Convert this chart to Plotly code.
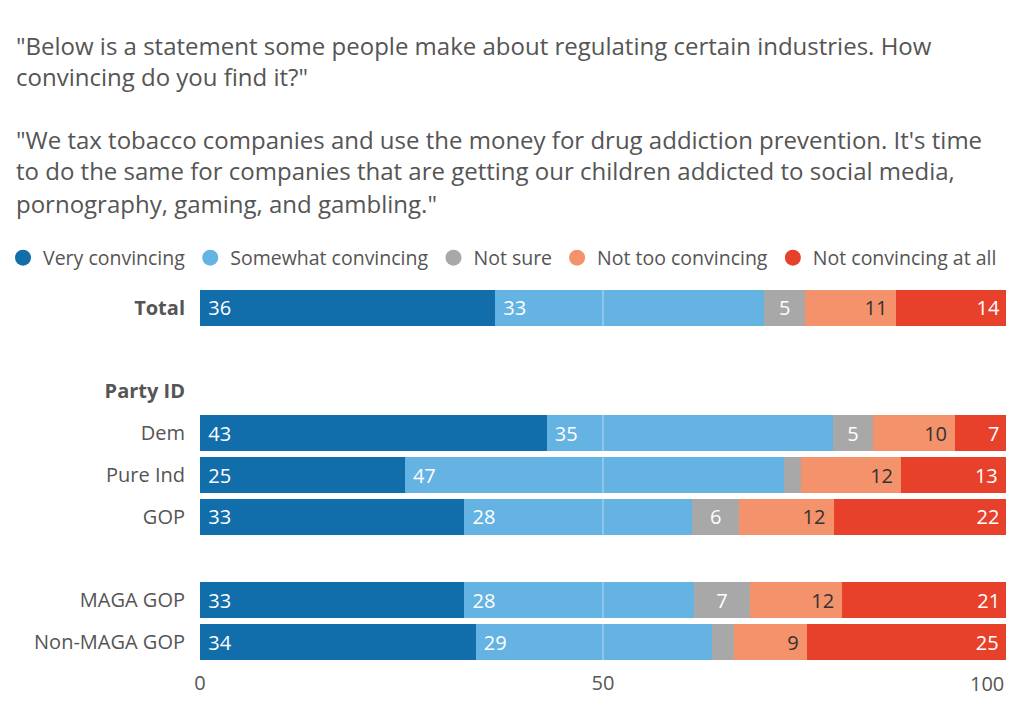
import plotly.graph_objects as go

# ---------------- data ----------------
rows = ["Total", "Dem", "Pure Ind", "GOP", "MAGA GOP", "Non-MAGA GOP"]
series = ["Very convincing", "Somewhat convincing", "Not sure",
          "Not too convincing", "Not convincing at all"]

# segment sizes
very_convincing = [36.6, 43.0, 25.4, 32.8, 32.8, 34.2]
somewhat_convincing = [33.4, 35.5, 47.0, 28.3, 28.5, 29.3]
not_sure = [5.1, 5.0, 2.2, 5.8, 6.9, 2.7]
not_too_convincing = [11.2, 10.2, 12.4, 11.7, 11.5, 9.1]
not_convincing_at_all = [13.9, 6.5, 13.0, 21.6, 20.6, 24.8]

# printed labels
very_labels = ["36", "43", "25", "33", "33", "34"]
somewhat_labels = ["33", "35", "47", "28", "28", "29"]
not_sure_labels = ["5", "5", "", "6", "7", ""]
not_too_labels = ["11", "10", "12", "12", "12", "9"]
not_at_all_labels = ["14", "7", "13", "22", "21", "25"]

x_ticks = [0, 50, 100]
x_tick_labels = ["0", "50", "100"]

# category slots (including header / spacer rows)
categories = ["<b>Total</b>", " ", "<b>Party ID</b>", "Dem", "Pure Ind", "GOP",
              "  ", "MAGA GOP", "Non-MAGA GOP"]
row_slots = ["<b>Total</b>", "Dem", "Pure Ind", "GOP", "MAGA GOP", "Non-MAGA GOP"]

colors = ["#116eab", "#64b3e3", "#a8a8a8", "#f4926c", "#e8412b"]
values = [very_convincing, somewhat_convincing, not_sure,
          not_too_convincing, not_convincing_at_all]
labels = [very_labels, somewhat_labels, not_sure_labels, not_too_labels, not_at_all_labels]
anchors = ["start", "start", "middle", "end", "end"]
text_colors = ["white", "white", "white", "#333333", "white"]

NB = "\u00a0"
FONT = "Open Sans"
GRAY = "#555555"

fig = go.Figure()
for name, vals, labs, col, anc, tcol in zip(series, values, labels, colors, anchors, text_colors):
    if anc == "start":
        txt = [NB + t if t else "" for t in labs]
    elif anc == "end":
        txt = [t + NB if t else "" for t in labs]
    else:
        txt = labs
    fig.add_trace(go.Bar(
        x=vals, y=row_slots, orientation="h", name=name,
        marker=dict(color=col, line=dict(width=0)),
        text=txt, textposition="inside", insidetextanchor=anc,
        textangle=0, constraintext="none",
        textfont=dict(family=FONT, size=20, color=tcol),
        showlegend=False, hoverinfo="skip",
    ))

# legend entries with circle symbols
for name, col in zip(series, colors):
    fig.add_trace(go.Scatter(
        x=[None], y=[None], mode="markers", name=name,
        marker=dict(color=col, size=19, symbol="circle"),
        showlegend=True,
    ))

plot_left, plot_w = 200, 806
plot_bottom, plot_h = 663, 376

fig.update_layout(
    width=1024, height=705,
    barmode="stack", bargap=0.14,
    plot_bgcolor="white", paper_bgcolor="white",
    margin=dict(l=200, r=18, t=287, b=42, autoexpand=False),
    font=dict(family=FONT, color=GRAY, size=20),
    showlegend=True,
    legend=dict(
        orientation="h", xref="paper", yref="paper",
        x=(3 - plot_left) / plot_w, y=(plot_bottom - 258) / plot_h,
        xanchor="left", yanchor="middle",
        font=dict(family=FONT, size=19.5, color=GRAY),
        itemwidth=30, traceorder="normal",
    ),
    xaxis=dict(
        range=[0, 100], tickvals=x_ticks[:2], ticktext=x_tick_labels[:2],
        showgrid=False, zeroline=False, showline=False,
        tickfont=dict(family=FONT, size=20, color=GRAY),
        ticks="", fixedrange=True, automargin=False, ticklabelstandoff=6,
    ),
    yaxis=dict(
        type="category", categoryorder="array", categoryarray=categories,
        tickvals=categories, range=[8.5, -0.5],
        showgrid=False, zeroline=False, showline=False,
        tickfont=dict(family=FONT, size=20, color=GRAY),
        ticks="", ticklabelstandoff=14, automargin=False, fixedrange=True,
    ),
)

# last x tick label is right-aligned to the plot edge
fig.add_annotation(
    text=x_tick_labels[2], xref="x", yref="paper", x=x_ticks[2],
    y=(plot_bottom - 683) / plot_h, xanchor="right", yanchor="middle",
    showarrow=False, font=dict(family=FONT, size=20, color=GRAY),
)

# light gridline on top of bars at 50
fig.add_shape(type="line", xref="x", yref="paper", x0=50, x1=50, y0=0, y1=1,
              line=dict(color="rgba(255,255,255,0.35)", width=1.5), layer="above")

# title lines
title_lines = [
    ('"Below is a statement some people make about regulating certain industries. How', 45),
    ('convincing do you find it?"', 77),
    ('"We tax tobacco companies and use the money for drug addiction prevention. It\'s time', 139),
    ('to do the same for companies that are getting our children addicted to social media,', 171),
    ('pornography, gaming, and gambling."', 203),
]
for txt, ypx in title_lines:
    fig.add_annotation(
        text=txt, xref="paper", yref="paper",
        x=(14 - plot_left) / plot_w, y=(plot_bottom - ypx) / plot_h,
        xanchor="left", yanchor="middle", showarrow=False, align="left",
        font=dict(family=FONT, size=24, color=GRAY),
    )

fig.write_html(
    "out.html",
    config={"displayModeBar": False},
    post_script="document.body.style.margin='0';document.body.style.overflow='hidden';",
)
